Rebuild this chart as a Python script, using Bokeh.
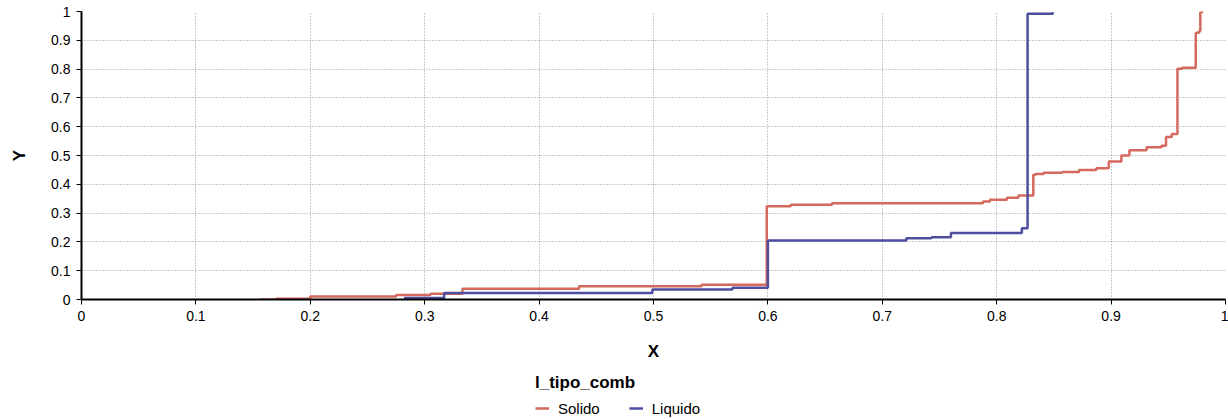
from bokeh.plotting import figure
from bokeh.layouts import column
from bokeh.models import Range1d, FixedTicker, NumeralTickFormatter, Legend, LegendItem
from bokeh.embed import file_html
from bokeh.resources import INLINE

# ---- data ----
solido_x = [0.156, 0.170, 0.200, 0.275, 0.305, 0.333, 0.435, 0.542, 0.599, 0.620,
            0.656, 0.788, 0.794, 0.809, 0.819, 0.832, 0.834, 0.841, 0.857, 0.872,
            0.887, 0.898, 0.909, 0.916, 0.931, 0.944, 0.948, 0.953, 0.958, 0.962,
            0.974, 0.977, 0.978, 0.980]
solido_y = [0.000, 0.003, 0.010, 0.016, 0.020, 0.037, 0.046, 0.051, 0.324, 0.329,
            0.334, 0.340, 0.346, 0.353, 0.361, 0.433, 0.436, 0.440, 0.443, 0.450,
            0.456, 0.479, 0.500, 0.518, 0.529, 0.534, 0.564, 0.575, 0.801, 0.805,
            0.926, 0.932, 0.998, 1.000]

liquido_x = [0.282, 0.317, 0.499, 0.569, 0.600, 0.721, 0.743, 0.760, 0.822, 0.827, 0.849]
liquido_y = [0.005, 0.023, 0.035, 0.041, 0.205, 0.213, 0.216, 0.231, 0.247, 0.992, 0.997]

ticks = [0.0, 0.1, 0.2, 0.3, 0.4, 0.5, 0.6, 0.7, 0.8, 0.9, 1.0]
series_names = ["Solido", "Liquido"]
legend_title = "l_tipo_comb"

RED = "#d5695d"
BLUE = "#4e4e9e"
FONT = "Liberation Sans"

# ---- main chart ----
p = figure(width=1228, height=365, output_backend="svg", toolbar_location=None,
           x_range=Range1d(0, 1), y_range=Range1d(0, 1),
           min_border_left=81, min_border_right=3, min_border_top=11,
           min_border_bottom=66)
p.outline_line_color = None
p.background_fill_color = "white"

r1 = p.step(solido_x, solido_y, mode="after", line_color=RED, line_width=2.5)
r2 = p.step(liquido_x, liquido_y, mode="after", line_color=BLUE, line_width=2.5)

for ax in (p.xaxis[0], p.yaxis[0]):
    ax.ticker = FixedTicker(ticks=ticks)
    ax.formatter = NumeralTickFormatter(format="0.[0]")
    ax.axis_line_color = "black"
    ax.axis_line_width = 2
    ax.major_tick_line_color = "black"
    ax.major_tick_line_width = 1
    ax.major_tick_out = 5
    ax.major_tick_in = 0
    ax.minor_tick_line_color = None
    ax.major_label_text_font = FONT
    ax.major_label_text_font_size = "14px"
    ax.major_label_text_color = "black"
    ax.axis_label_text_font = FONT
    ax.axis_label_text_font_size = "17px"
    ax.axis_label_text_font_style = "bold"
    ax.axis_label_text_color = "black"

p.xaxis.axis_label = "X"
p.yaxis.axis_label = "Y"
p.xaxis.major_label_standoff = 6
p.xaxis.axis_label_standoff = 18
p.yaxis.major_label_standoff = 6
p.yaxis.axis_label_standoff = 19

p.grid.grid_line_color = "#999999"
p.grid.grid_line_dash = "1 2"
p.grid.grid_line_width = 1

# ---- legend strip (same series, drawn out of view; only the legend shows) ----
q = figure(width=1228, height=54, output_backend="svg", toolbar_location=None,
           x_range=Range1d(0, 1), y_range=Range1d(5, 6),
           x_axis_location=None, y_axis_location=None,
           min_border_left=0, min_border_right=0, min_border_top=0,
           min_border_bottom=0)
q.grid.visible = False
q.outline_line_color = None
l1 = q.step(solido_x, solido_y, mode="after", line_color=RED, line_width=2.5)
l2 = q.step(liquido_x, liquido_y, mode="after", line_color=BLUE, line_width=2.5)

legend = Legend(items=[LegendItem(label=series_names[0], renderers=[l1]),
                       LegendItem(label=series_names[1], renderers=[l2])],
                title=legend_title, orientation="horizontal",
                location=(454, 1), padding=0, margin=0, spacing=29,
                label_standoff=9, glyph_width=14, glyph_height=20,
                label_height=20, title_standoff=5,
                border_line_color=None, background_fill_alpha=0)
legend.title_text_font = FONT
legend.title_text_font_size = "17px"
legend.title_text_font_style = "bold"
legend.title_text_color = "black"
legend.label_text_font = FONT
legend.label_text_font_size = "15px"
legend.label_text_color = "black"
q.add_layout(legend, "center")

layout = column(p, q, spacing=0)
open("out.html", "w").write(file_html(layout, INLINE))
